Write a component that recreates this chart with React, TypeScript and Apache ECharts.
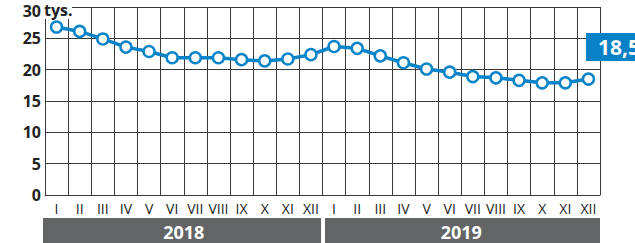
import React, { useEffect, useRef } from "react";
import * as echarts from "echarts";

const monthLabels = ["I", "II", "III", "IV", "V", "VI", "VII", "VIII", "IX", "X", "XI", "XII"];
const years = ["2018", "2019"];
const values2018 = [26.8, 26.1, 24.9, 23.6, 22.9, 21.9, 21.9, 21.9, 21.6, 21.4, 21.7, 22.4];
const values2019 = [23.7, 23.4, 22.2, 21.1, 20.1, 19.6, 18.9, 18.7, 18.3, 17.9, 17.9, 18.5];
const yTicks = [0, 5, 10, 15, 20, 25, 30];
const unitLabel = "tys.";

const BLUE = "#0a84c9";
const GRID = "#3a3a3a";
const BAND = "#636466";

export default function App() {
  const ref = useRef<HTMLDivElement>(null);

  useEffect(() => {
    if (!ref.current) return;
    const chart = echarts.init(ref.current, null, { renderer: "svg" });
    const categories: string[] = [];
    years.forEach((y) => monthLabels.forEach((m) => categories.push(m + " " + y)));
    const values = [...values2018, ...values2019];
    const lastVal = values[values.length - 1];
    const yMax = yTicks[yTicks.length - 1];

    chart.setOption({
      animation: false,
      grid: { left: 45, right: 35, top: 7, bottom: 48, containLabel: false },
      xAxis: {
        type: "category",
        data: categories,
        boundaryGap: true,
        axisLine: { show: true, lineStyle: { color: GRID, width: 1 } },
        axisTick: { show: false },
        splitLine: { show: true, interval: 0, lineStyle: { color: GRID, width: 1 } },
        axisLabel: {
          interval: 0,
          margin: 6,
          color: "#222",
          fontFamily: "Open Sans",
          fontSize: 14,
          formatter: (v: string) => v.split(" ")[0],
        },
      },
      yAxis: {
        type: "value",
        min: yTicks[0],
        max: yMax,
        interval: 5,
        axisLine: { show: true, lineStyle: { color: GRID, width: 1 } },
        axisTick: { show: false },
        splitLine: { show: true, lineStyle: { color: GRID, width: 1 } },
        axisLabel: {
          margin: 4,
          color: "#222",
          fontFamily: "Open Sans",
          fontWeight: "bold",
          fontSize: 16,
          formatter: (v: number) => (v === yMax ? "" : String(v)),
        },
      },
      series: [
        {
          type: "line",
          data: values,
          symbol: "circle",
          symbolSize: 11,
          lineStyle: { color: BLUE, width: 3.5 },
          itemStyle: { color: "#fff", borderColor: BLUE, borderWidth: 2.5 },
          z: 5,
        },
      ],
    });

    const c0 = chart.convertToPixel({ xAxisIndex: 0 }, 0) as number;
    const c1 = chart.convertToPixel({ xAxisIndex: 0 }, 1) as number;
    const bw = c1 - c0;
    const xStart = c0 - bw / 2;
    const xMid = xStart + bw * 12;
    const xEnd = xStart + bw * 24;
    const yTop = chart.convertToPixel({ yAxisIndex: 0 }, yMax) as number;
    const yZero = chart.convertToPixel({ yAxisIndex: 0 }, 0) as number;
    const bandTop = yZero + 23;
    const bandH = 243 - bandTop;

    chart.setOption({
      graphic: [
        {
          type: "rect",
          shape: { x: xStart - 3, y: 0, width: 30, height: yTop + 12 },
          style: { fill: "#fff" },
          z: 100,
        },
        {
          type: "text",
          x: xStart - 4,
          y: yTop + 4,
          style: {
            text: String(yMax),
            fill: "#222",
            font: "bold 16px 'Open Sans'",
            verticalAlign: "middle",
            align: "right",
          },
          z: 101,
        },
        {
          type: "text",
          x: xStart - 1,
          y: yTop + 3,
          style: {
            text: unitLabel,
            fill: "#222",
            font: "bold 16px 'Open Sans'",
            verticalAlign: "middle",
            align: "left",
          },
          z: 101,
        },
        {
          type: "rect",
          shape: { x: xStart - 2, y: bandTop, width: xMid - xStart + 0.5, height: bandH },
          style: { fill: BAND },
          z: 100,
        },
        {
          type: "rect",
          shape: { x: xMid + 2.5, y: bandTop, width: xEnd - xMid - 2.5, height: bandH },
          style: { fill: BAND },
          z: 100,
        },
        {
          type: "text",
          x: (xStart + xMid) / 2,
          y: bandTop + bandH / 2 + 1,
          style: {
            text: years[0],
            fill: "#fff",
            font: "bold 18px 'Open Sans'",
            align: "center",
            verticalAlign: "middle",
          },
          z: 101,
        },
        {
          type: "text",
          x: (xMid + xEnd) / 2,
          y: bandTop + bandH / 2 + 1,
          style: {
            text: years[1],
            fill: "#fff",
            font: "bold 18px 'Open Sans'",
            align: "center",
            verticalAlign: "middle",
          },
          z: 101,
        },
        {
          type: "rect",
          shape: { x: xEnd - 14, y: 33, width: 80, height: 28 },
          style: { fill: "#0a80c6" },
          z: 100,
        },
        {
          type: "text",
          x: xEnd - 2,
          y: 47,
          style: {
            text: String(lastVal).replace(".", ","),
            fill: "#fff",
            font: "bold 21px 'Open Sans'",
            align: "left",
            verticalAlign: "middle",
          },
          z: 101,
        },
      ],
    });

    return () => chart.dispose();
  }, []);

  return <div ref={ref} style={{ width: 635, height: 243, position: "absolute", left: 0, top: 0 }} />;
}
